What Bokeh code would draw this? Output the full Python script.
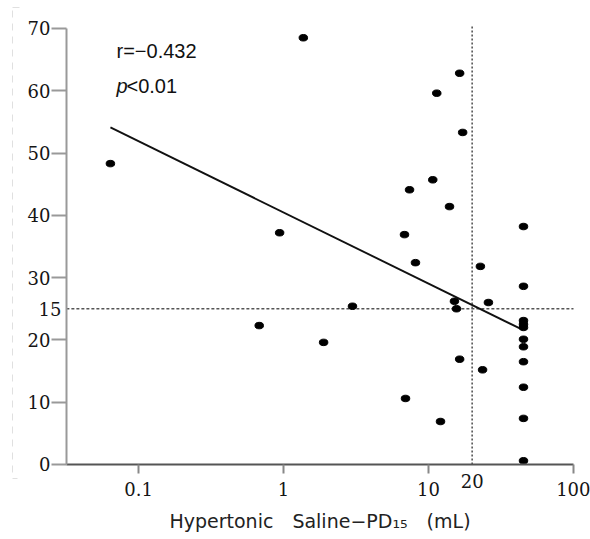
from bokeh.plotting import figure
from bokeh.models import Range1d, FixedTicker, Label, PolyAnnotation
from bokeh.embed import file_html
from bokeh.resources import INLINE

# ---- data ----
pd15_ml = [0.064, 1.37, 0.94, 0.68, 1.89, 2.99, 7.4, 10.7, 13.96, 6.83, 8.13,
           22.8, 25.9, 15.1, 15.6, 16.4, 23.6, 6.94, 12.1, 16.4, 11.4, 17.2,
           45.2, 45.2, 45.2, 45.2, 45.2, 45.2, 45.2, 45.2, 45.2, 45.2, 45.2]
y_vals = [48.3, 68.5, 37.2, 22.3, 19.6, 25.4, 44.1, 45.7, 41.4, 36.9, 32.4,
          31.8, 26.0, 26.2, 25.0, 16.9, 15.2, 10.6, 6.9, 62.8, 59.6, 53.3,
          38.2, 28.6, 23.1, 22.5, 22.0, 20.1, 18.9, 16.5, 12.4, 7.4, 0.6]
fit_x = [0.064, 43.0]
fit_y = [54.1, 21.8]
x_cut = 20
y_cut = 25
vline_top = 70.5
y_cut_label = "15"
x_cut_label = "20"
x_ticks = [0.1, 1, 10, 100]
x_tick_labels = ["0.1", "1", "10", "100"]
y_ticks = [0, 10, 20, 30, 40, 50, 60, 70]
x_axis_start, x_axis_end = 0.0318, 100
y_axis_start, y_axis_end = 0, 70
stat_r = "r=\u22120.432"
stat_p_sym = "p"
stat_p = "<0.01"
x_label = "Hypertonic\u2003Saline\u2212PD\u2081\u2085\u2003(mL)"

# view window (frame covers whole canvas; axes are pinned inside it)
view_x = (0.01117, 131.0)
view_y = (-12.04, 74.48)

SERIF = "DejaVu Serif"
SANS = "DejaVu Sans"

p = figure(width=590, height=539, x_axis_type="log",
           x_range=Range1d(*view_x), y_range=Range1d(*view_y),
           output_backend="svg", toolbar_location=None, min_border=0)
p.outline_line_color = None
p.grid.grid_line_color = None
p.background_fill_color = "white"
p.border_fill_color = "white"

# axes
xa = p.xaxis[0]
xa.fixed_location = y_axis_start
xa.bounds = (x_axis_start, x_axis_end)
xa.ticker = FixedTicker(ticks=x_ticks)
xa.major_label_overrides = {t: l for t, l in zip(x_ticks, x_tick_labels)}
xa.minor_tick_line_color = None
xa.major_tick_in = 0
xa.major_tick_out = 9
xa.major_tick_line_color = "#888888"
xa.major_tick_line_width = 2
xa.axis_line_color = "#555555"
xa.axis_line_width = 2
xa.major_label_text_font = SERIF
xa.major_label_text_font_size = "18px"
xa.major_label_text_color = "#151515"
xa.major_label_standoff = 9
xa.axis_label = x_label
xa.axis_label_text_font = SANS
xa.axis_label_text_font_style = "normal"
xa.axis_label_text_font_size = "19px"
xa.axis_label_text_color = "#222222"
xa.axis_label_standoff = 10

ya = p.yaxis[0]
ya.fixed_location = x_axis_start
ya.bounds = (y_axis_start, y_axis_end)
ya.ticker = FixedTicker(ticks=y_ticks)
ya.minor_tick_line_color = None
ya.major_tick_in = 0
ya.major_tick_out = 15
ya.major_tick_line_color = "#999999"
ya.major_tick_line_width = 2
ya.axis_line_color = "#999999"
ya.axis_line_width = 2
ya.major_label_text_font = SERIF
ya.major_label_text_font_size = "18px"
ya.major_label_text_color = "#151515"
ya.major_label_standoff = 1

# cut-off lines
p.segment(x0=[x_cut], y0=[y_axis_start], x1=[x_cut], y1=[vline_top],
          line_color="#555555", line_width=1.6, line_dash="2 2")
p.segment(x0=[x_axis_start], y0=[y_cut], x1=[x_axis_end], y1=[y_cut],
          line_color="#555555", line_width=1.6, line_dash="3 2")
p.add_layout(Label(x=x_axis_start, y=y_cut, text=y_cut_label,
                   text_align="right", text_baseline="middle", x_offset=-5,
                   text_font=SERIF, text_font_size="18px",
                   text_color="#151515"))
p.add_layout(Label(x=x_cut, y=y_axis_start, text=x_cut_label,
                   text_align="center", text_baseline="middle", y_offset=-17,
                   text_font=SERIF, text_font_size="18px",
                   text_color="#151515"))

# regression line and points
p.line(fit_x, fit_y, line_color="#111111", line_width=1.9)
p.ellipse(pd15_ml, y_vals, width=8.5, height=6.5, width_units="screen",
          height_units="screen", fill_color="black", line_color="black")

# statistics text
p.add_layout(Label(x=0.0705, y=66.3, text=stat_r, text_baseline="middle",
                   text_font="Liberation Sans", text_font_size="20px",
                   text_color="#111111"))
p.add_layout(Label(x=0.0705, y=60.7, text=stat_p_sym, text_baseline="middle",
                   text_font="Liberation Sans", text_font_size="20px",
                   text_font_style="italic", text_color="#111111"))
p.add_layout(Label(x=0.0705, y=60.7, text=stat_p, text_baseline="middle",
                   x_offset=10,
                   text_font="Liberation Sans", text_font_size="20px",
                   text_color="#111111"))

# faint dashed bracket at far left (scan artifact of the source figure)
p.add_layout(PolyAnnotation(xs=[12, 12], ys=[10, 475], xs_units="canvas",
                            ys_units="canvas", fill_alpha=0,
                            line_color="#999999", line_width=1,
                            line_dash="7 6"))
p.add_layout(PolyAnnotation(xs=[12, 19], ys=[7, 7], xs_units="canvas",
                            ys_units="canvas", fill_alpha=0,
                            line_color="#999999", line_width=1))
p.add_layout(PolyAnnotation(xs=[12, 17], ys=[478, 478], xs_units="canvas",
                            ys_units="canvas", fill_alpha=0,
                            line_color="#999999", line_width=1))

open("out.html", "w").write(file_html(p, INLINE))
